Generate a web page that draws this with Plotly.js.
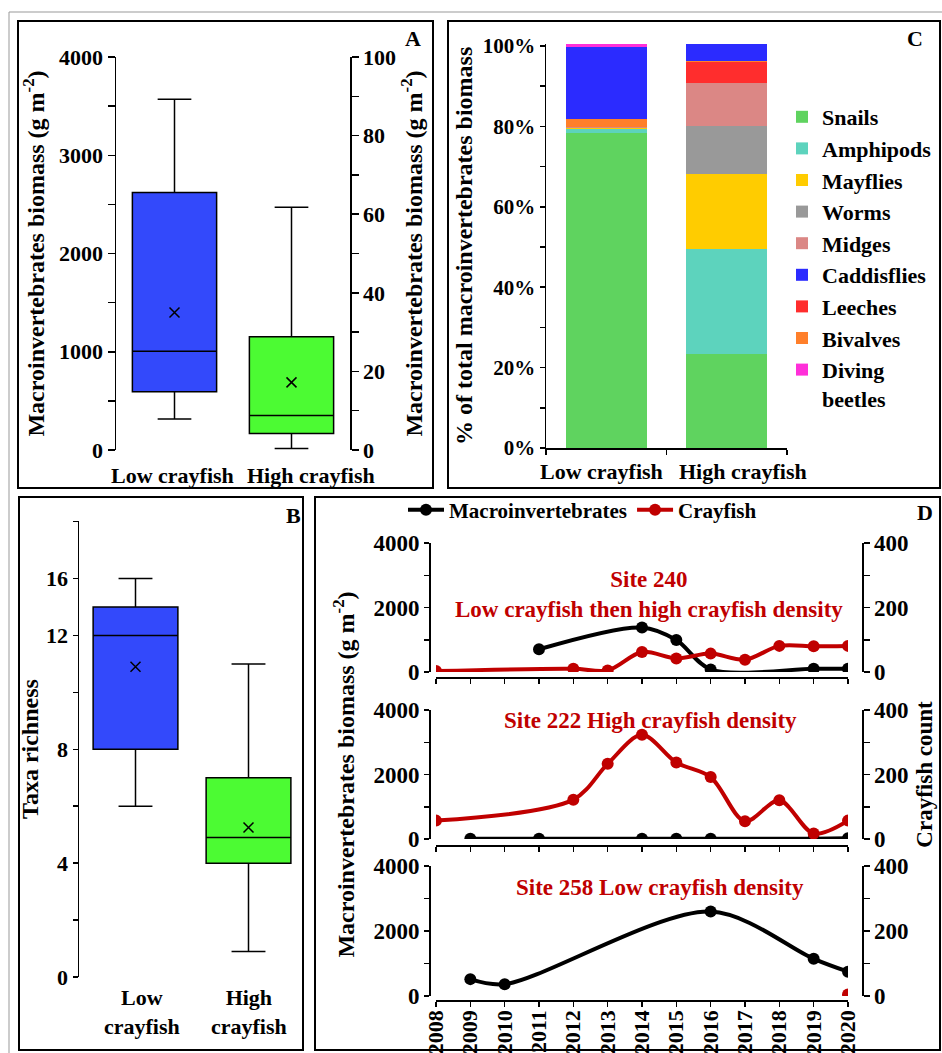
<!DOCTYPE html>
<html><head><meta charset="utf-8">
<script src="https://cdn.plot.ly/plotly-3.0.1.min.js"></script>
<style>html,body{margin:0;padding:0;background:#fff}#chart{width:942px;height:1053px}</style>
</head><body><div id="chart"></div>
<script>
// ---------- DATA ----------
// Panel A: macroinvertebrate biomass (box stats: lowerfence, q1, median, q3, upperfence)
const groups = ['Low crayfish', 'High crayfish'];
const aLowBox = [315, 593, 1005, 2620, 3570];   // left axis (g m-2)
const aLowMean = 1400;
const aHighBox = [0.4, 4.2, 8.8, 28.8, 61.8];   // right axis (g m-2)
const aHighMean = 17.2;
const aLeftTicks = [0, 1000, 2000, 3000, 4000];
const aRightTicks = [0, 20, 40, 60, 80, 100];

// Panel B: taxa richness
const bLowBox = [6, 8, 12, 13, 14];
const bLowMean = 10.9;
const bHighBox = [0.9, 4, 4.9, 7, 11];
const bHighMean = 5.25;
const bTickVals = [0, 4, 8, 12, 14];
const bTickText = ['0', '4', '8', '12', '16'];

// Panel C: % of total biomass (stacking order, bottom to top)
const taxa = ['Snails', 'Amphipods', 'Mayflies', 'Worms', 'Midges', 'Leeches', 'Bivalves', 'Caddisflies', 'Diving<br>beetles'];
const lowPct = [78.4, 0.9, 0.2, 0.15, 0.1, 0.1, 2.1, 17.8, 0.7];
const highPct = [23.4, 26.0, 18.7, 12.1, 10.7, 5.2, 0.2, 4.2, 0.0];
const taxaColors = ['#5fd35f', '#5dd3bd', '#ffcc00', '#999999', '#db8785', '#ff2d2d', '#ff7f2a', '#2b2bff', '#ff2fd9'];
const legendOrder = ['Snails', 'Amphipods', 'Mayflies', 'Worms', 'Midges', 'Caddisflies', 'Leeches', 'Bivalves', 'Diving<br>beetles'];
const cTicks = [0, 20, 40, 60, 80, 100];
const cTickText = ['0%', '20%', '40%', '60%', '80%', '100%'];

// Panel D: time series
const s240MacroYears = [2011, 2014, 2015, 2016, 2019, 2020];
const s240Macro = [706, 1380, 990, 80, 100, 100];
const s240CrayYears = [2008, 2012, 2013, 2014, 2015, 2016, 2017, 2018, 2019, 2020];
const s240Cray = [3, 10, 5, 62, 42, 57, 38, 81, 80, 81];
const s222MacroYears = [2009, 2011, 2014, 2015, 2016, 2019, 2020];
const s222Macro = [10, 10, 10, 10, 10, 10, 20];
const s222CrayYears = [2008, 2012, 2013, 2014, 2015, 2016, 2017, 2018, 2019, 2020];
const s222Cray = [57, 122, 233, 323, 237, 192, 55, 120, 17, 57];
const s258MacroYears = [2009, 2010, 2016, 2019, 2020];
const s258Macro = [519, 364, 2597, 1143, 748];
const s258CrayYears = [2020];
const s258Cray = [5];
const siteTitles = ['Site 240<br>Low crayfish then high crayfish density', 'Site 222 High crayfish density', 'Site 258 Low crayfish density'];
const dLeftTicks = [0, 2000, 4000];
const dRightTicks = [0, 200, 400];
const seriesNames = ['Macroinvertebrates', 'Crayfish'];

// ---------- HELPERS ----------
const W = 942, H = 1053;
const px = v => v / W;
const py = v => 1 - v / H;
const FAM = "'Liberation Serif', 'Times New Roman', serif";
const fnt = (size, color) => ({family: FAM, size: size, color: color || '#000', weight: 700});
const BLUE = '#3349fb', GREEN = '#4cfb33', RED = '#c00000';

function yax(extra) {
  return Object.assign({
    showgrid: false, zeroline: false, showline: true, linecolor: '#000', linewidth: 1.5,
    ticks: 'outside', tickcolor: '#000', tickwidth: 1.5, ticklen: 6, fixedrange: true
  }, extra);
}
function boxTrace(stats, cat, xa, ya, color) {
  return {type: 'box', x: [cat], lowerfence: [stats[0]], q1: [stats[1]], median: [stats[2]],
    q3: [stats[3]], upperfence: [stats[4]], xaxis: xa, yaxis: ya, fillcolor: color,
    line: {color: '#000', width: 1.5}, whiskerwidth: 0.4, width: 0.72, boxpoints: false,
    showlegend: false, hoverinfo: 'skip'};
}
function meanTrace(val, cat, xa, ya) {
  return {type: 'scatter', mode: 'markers', x: [cat], y: [val], xaxis: xa, yaxis: ya,
    marker: {symbol: 'x-thin-open', size: 10, color: '#000', line: {color: '#000', width: 1.5}},
    showlegend: false, hoverinfo: 'skip'};
}

const traces = [];
// Panel A
traces.push(boxTrace(aLowBox, groups[0], 'x', 'y', BLUE));
traces.push(boxTrace(aHighBox, groups[1], 'x', 'y2', GREEN));
traces.push(meanTrace(aLowMean, groups[0], 'x', 'y'));
traces.push(meanTrace(aHighMean, groups[1], 'x', 'y2'));
// Panel B
const bb1 = boxTrace(bLowBox, groups[0], 'x2', 'y3', BLUE); bb1.width = 0.75;
const bb2 = boxTrace(bHighBox, groups[1], 'x2', 'y3', GREEN); bb2.width = 0.75;
traces.push(bb1, bb2);
traces.push(meanTrace(bLowMean, groups[0], 'x2', 'y3'));
traces.push(meanTrace(bHighMean, groups[1], 'x2', 'y3'));
// Panel C
taxa.forEach((t, i) => {
  traces.push({type: 'bar', name: t, x: groups, y: [lowPct[i], highPct[i]], xaxis: 'x3', yaxis: 'y4',
    marker: {color: taxaColors[i], line: {width: 0}}, width: 0.67,
    legendrank: legendOrder.indexOf(t) + 1, legend: 'legend', hoverinfo: 'skip'});
});
// Panel D
const dSets = [
  [s240MacroYears, s240Macro, s240CrayYears, s240Cray, 'x4', 'y5', 'y6'],
  [s222MacroYears, s222Macro, s222CrayYears, s222Cray, 'x5', 'y7', 'y8'],
  [s258MacroYears, s258Macro, s258CrayYears, s258Cray, 'x6', 'y9', 'y10']
];
dSets.forEach((s, k) => {
  traces.push({type: 'scatter', mode: 'lines+markers', name: seriesNames[0], x: s[0], y: s[1],
    xaxis: s[4], yaxis: s[5], line: {color: '#000', width: 4, shape: 'spline', smoothing: 0.9},
    marker: {color: '#000', size: 12}, legend: 'legend2', showlegend: k === 0, hoverinfo: 'skip'});
  traces.push({type: 'scatter', mode: 'lines+markers', name: seriesNames[1], x: s[2], y: s[3],
    xaxis: s[4], yaxis: s[6], line: {color: RED, width: 4, shape: 'spline', smoothing: 0.9},
    marker: {color: RED, size: 12}, legend: 'legend2', showlegend: k === 0, hoverinfo: 'skip'});
});

const bioTitle = 'Macroinvertebrates biomass (g m<sup>-2</sup>)';
const catX = (dom, anchor) => ({type: 'category', categoryorder: 'array', categoryarray: groups,
  domain: dom, range: [-0.5, 1.5], anchor: anchor, showgrid: false, zeroline: false,
  showline: false, ticks: '', showticklabels: false, fixedrange: true});

const layout = {
  width: W, height: H, margin: {l: 0, r: 0, t: 0, b: 0},
  paper_bgcolor: '#fff', plot_bgcolor: 'rgba(0,0,0,0)',
  font: fnt(22), barmode: 'stack', boxmode: 'overlay',
  // Panel A
  xaxis: catX([px(116), px(350)], 'y'),
  yaxis: yax({domain: [py(450), py(57)], range: [0, 4000], anchor: 'x', tickvals: aLeftTicks,
    ticklen: 7, tickfont: fnt(22), minor: {dtick: 500, ticks: 'outside', ticklen: 7, tickwidth: 1.5, tickcolor: '#000'},
    title: {text: bioTitle, font: fnt(24), standoff: 7}}),
  yaxis2: yax({domain: [py(450), py(57)], range: [0, 100], overlaying: 'y', side: 'right', anchor: 'x',
    tickvals: aRightTicks, ticklen: 7, tickfont: fnt(22),
    minor: {dtick: 10, ticks: 'outside', ticklen: 7, tickwidth: 1.5, tickcolor: '#000'},
    title: {text: bioTitle, font: fnt(24), standoff: 10}}),
  // Panel B
  xaxis2: catX([px(79), px(305)], 'y3'),
  yaxis3: yax({domain: [py(977), py(521)], range: [0, 16.02], anchor: 'x2', tickvals: bTickVals,
    ticktext: bTickText, ticklen: 5, tickfont: fnt(22),
    minor: {dtick: 2, ticks: 'outside', ticklen: 5, tickwidth: 1.5, tickcolor: '#000'},
    title: {text: 'Taxa richness', font: fnt(24), standoff: 0}}),
  // Panel C
  xaxis3: {type: 'category', categoryorder: 'array', categoryarray: groups, domain: [px(546), px(787)],
    range: [-0.5, 1.5], anchor: 'y4', showgrid: false, zeroline: false, showline: true, linecolor: '#000',
    linewidth: 1.5, ticks: 'outside', tickson: 'boundaries', ticklen: 5, tickwidth: 1.5, tickcolor: '#000',
    showticklabels: false, fixedrange: true},
  yaxis4: yax({domain: [py(448), py(448 - 100.6 * 4.02)], range: [0, 100.6], anchor: 'x3', tickvals: cTicks,
    ticktext: cTickText, ticklen: 5, tickfont: fnt(21),
    minor: {dtick: 10, ticks: 'outside', ticklen: 5, tickwidth: 1.5, tickcolor: '#000'},
    title: {text: '% of total macroinvertebrates biomass', font: fnt(24), standoff: 3}}),
  legend: {x: px(782), xanchor: 'left', y: py(96), yanchor: 'top', font: fnt(22),
    bgcolor: 'rgba(0,0,0,0)', traceorder: 'normal', valign: 'top'},
  legend2: {x: px(403), xanchor: 'left', y: py(510), yanchor: 'middle', orientation: 'h',
    font: fnt(21), bgcolor: 'rgba(0,0,0,0)', itemwidth: 36},
  annotations: [],
  shapes: []
};

// Panel D axes
const dY = [[672, 543, 677], [839, 710, 845], [996, 866, 1000]];
dY.forEach((d, k) => {
  const xn = 'xaxis' + (4 + k), yl = 'yaxis' + (5 + 2 * k), yr = 'yaxis' + (6 + 2 * k);
  const yla = 'y' + (5 + 2 * k);
  layout[xn] = {domain: [px(436), px(848)], range: [2008, 2020], anchor: 'free', position: py(d[2]),
    showgrid: false, zeroline: false, showline: true, linecolor: '#000', linewidth: 1.5,
    ticks: 'outside', ticklen: 5, tickwidth: 1.5, tickcolor: '#000', dtick: 1, tick0: 2008,
    showticklabels: k === 2, tickangle: -90, tickfont: fnt(22), ticklabelstandoff: -5, fixedrange: true};
  layout[yl] = yax({domain: [py(d[0]), py(d[1])], range: [0, 4000], anchor: 'free', position: px(429),
    side: 'left', tickvals: dLeftTicks, ticklen: 5, tickfont: fnt(23),
    minor: {dtick: 1000, ticks: 'outside', ticklen: 5, tickwidth: 1.5, tickcolor: '#000'}});
  layout[yr] = yax({domain: [py(d[0]), py(d[1])], range: [0, 400], anchor: 'free', position: px(862),
    side: 'right', overlaying: yla, tickvals: dRightTicks, ticklen: 6, tickfont: fnt(23),
    minor: {dtick: 100, ticks: 'outside', ticklen: 6, tickwidth: 1.5, tickcolor: '#000'}});
  if (k === 1) {
    layout[yl].title = {text: bioTitle, font: fnt(24), standoff: 10};
    layout[yr].title = {text: 'Crayfish count', font: fnt(23), standoff: 8};
  }
});

// annotations
const ann = layout.annotations;
const panelLetters = [['A', 413, 38], ['C', 915, 38], ['B', 293, 515], ['D', 925, 512]];
panelLetters.forEach(p => ann.push({text: p[0], xref: 'paper', yref: 'paper', x: px(p[1]), y: py(p[2]),
  xanchor: 'center', yanchor: 'middle', showarrow: false, font: fnt(22)}));
// category labels
[[0, -2], [1, 19]].forEach(c => ann.push({text: groups[c[0]], xref: 'x', yref: 'paper', x: c[0], y: py(475),
  xshift: c[1], xanchor: 'center', yanchor: 'middle', showarrow: false, font: fnt(22)}));
[[0, 6], [1, 0]].forEach(c => ann.push({text: groups[c[0]].replace(' ', '<br>'), xref: 'x2', yref: 'paper', x: c[0],
  y: py(1012), xshift: c[1], xanchor: 'center', yanchor: 'middle', showarrow: false, font: fnt(22)}));
[[0, -5], [1, 16]].forEach(c => ann.push({text: groups[c[0]], xref: 'x3', yref: 'paper', x: c[0], y: py(471),
  xshift: c[1], xanchor: 'center', yanchor: 'middle', showarrow: false, font: fnt(22)}));
// site titles
[[649, 594], [650, 720], [660, 887]].forEach((p, k) => ann.push({text: siteTitles[k], xref: 'paper', yref: 'paper',
  x: px(p[0]), y: py(p[1]), xanchor: 'center', yanchor: 'middle', showarrow: false, font: fnt(23, RED)}));

// panel frames
const frames = [[18, 21, 433, 488], [448, 21, 940, 488], [19, 497, 303, 1050], [315, 497, 940, 1050]];
layout.shapes.push({type: 'rect', xref: 'paper', yref: 'paper', x0: px(9), x1: px(960), y0: py(12), y1: py(1070),
  line: {color: '#999', width: 1}, layer: 'below'});
frames.forEach(f => layout.shapes.push({type: 'rect', xref: 'paper', yref: 'paper', x0: px(f[0]), x1: px(f[2]),
  y0: py(f[1]), y1: py(f[3]), line: {color: '#000', width: 2}, layer: 'below'}));

Plotly.newPlot('chart', traces, layout, {staticPlot: true, displayModeBar: false});
</script></body></html>
